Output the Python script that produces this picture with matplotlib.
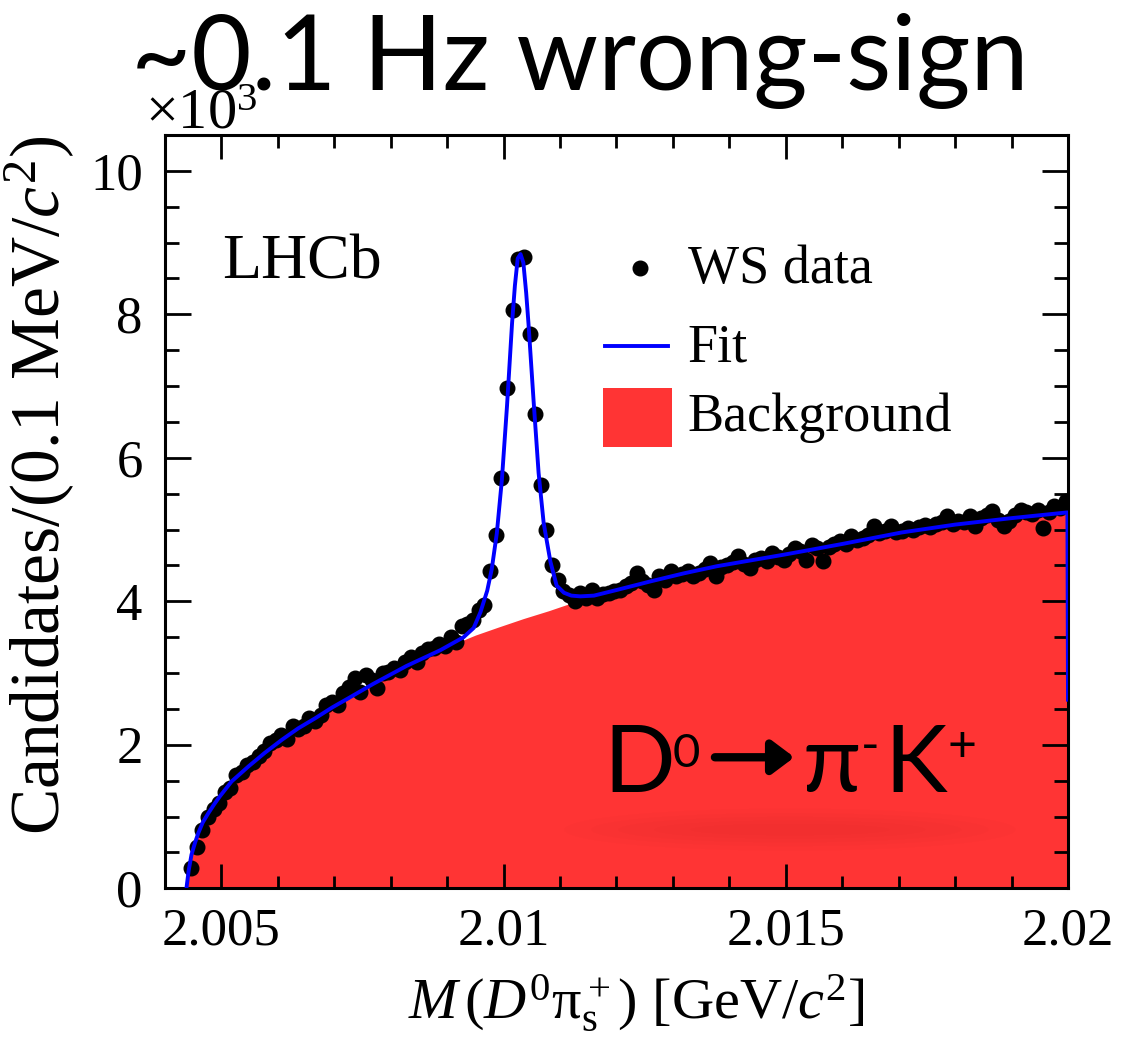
import matplotlib
matplotlib.use("Agg")
import matplotlib.pyplot as plt
from matplotlib.ticker import MultipleLocator, FuncFormatter
from matplotlib.patches import Rectangle, Ellipse
import numpy as np

plt.rcParams["font.family"] = ["Liberation Serif", "DejaVu Serif"]
plt.rcParams["mathtext.fontset"] = "custom"
plt.rcParams["mathtext.rm"] = "Liberation Serif"
plt.rcParams["mathtext.it"] = "Liberation Serif:italic"

# WS candidates per 0.1 MeV bin (x10^3), first bin centre just above threshold
m_first = 2.00446
bin_width = 0.0001
ws_counts = [
    0.29, 0.58, 0.82, 0.99, 1.10, 1.19, 1.35, 1.40, 1.58, 1.62,
    1.72, 1.76, 1.84, 1.91, 2.02, 2.07, 2.14, 2.08, 2.26, 2.22,
    2.26, 2.37, 2.33, 2.42, 2.55, 2.60, 2.56, 2.72, 2.81, 2.93,
    2.74, 2.98, 2.90, 2.79, 3.00, 3.02, 3.07, 3.05, 3.15, 3.23,
    3.16, 3.28, 3.33, 3.35, 3.40, 3.38, 3.51, 3.44, 3.65, 3.68,
    3.74, 3.88, 3.95, 4.42, 4.92, 5.72, 6.97, 8.06, 8.77, 8.80,
    7.72, 6.61, 5.62, 5.00, 4.50, 4.30, 4.15, 4.09, 4.00, 4.12,
    4.05, 4.16, 4.05, 4.10, 4.12, 4.14, 4.16, 4.21, 4.25, 4.40,
    4.28, 4.23, 4.16, 4.35, 4.30, 4.42, 4.35, 4.38, 4.42, 4.36,
    4.40, 4.45, 4.54, 4.35, 4.48, 4.51, 4.55, 4.63, 4.52, 4.47,
    4.58, 4.61, 4.56, 4.68, 4.62, 4.58, 4.66, 4.75, 4.70, 4.58,
    4.79, 4.74, 4.56, 4.76, 4.80, 4.84, 4.80, 4.91, 4.86, 4.88,
    4.92, 5.05, 4.95, 4.98, 5.05, 4.97, 4.98, 5.02, 5.00, 5.04,
    5.06, 5.03, 5.08, 5.10, 5.19, 5.08, 5.12, 5.10, 5.19, 5.05,
    5.16, 5.20, 5.26, 5.14, 5.05, 5.12, 5.20, 5.28, 5.24, 5.22,
    5.27, 5.02, 5.25, 5.33, 5.30, 5.40,
]
m_data = m_first + bin_width * np.arange(len(ws_counts))

# total fit curve (signal + background)
fit_m = [2.00438, 2.00442, 2.00447, 2.00453, 2.00459, 2.00467, 2.00477, 2.00487,
         2.00497, 2.00518, 2.00548, 2.00577, 2.00607, 2.00636, 2.00666, 2.00696,
         2.00725, 2.00769, 2.00828, 2.00888, 2.00929, 2.00947, 2.00959, 2.00971,
         2.00979, 2.00988, 2.00997, 2.01006, 2.01015, 2.01020, 2.01025, 2.01030,
         2.01035, 2.01040, 2.01044, 2.01053, 2.01062, 2.01071, 2.01083, 2.01094,
         2.01107, 2.01120, 2.01136, 2.01160, 2.01201, 2.01261, 2.01319, 2.01378,
         2.01437, 2.01496, 2.01545, 2.01600, 2.01705, 2.01800, 2.01900, 2.01999,
         2.02000]
fit_y = [0.00, 0.25, 0.47, 0.63, 0.77, 0.92, 1.05, 1.17,
         1.28, 1.49, 1.70, 1.89, 2.07, 2.23, 2.37, 2.52,
         2.65, 2.85, 3.10, 3.32, 3.50, 3.63, 3.85, 4.15,
         4.45, 4.95, 5.70, 6.72, 7.88, 8.40, 8.78, 8.84,
         8.72, 8.30, 7.88, 6.81, 5.79, 5.09, 4.55, 4.22,
         4.12, 4.08, 4.07, 4.08, 4.16, 4.28, 4.39, 4.49,
         4.57, 4.65, 4.72, 4.80, 4.96, 5.07, 5.16, 5.24,
         2.63]

# background component
bkg_m = [2.00438, 2.00442, 2.00447, 2.00453, 2.00459, 2.00467, 2.00477, 2.00487,
         2.00497, 2.00518, 2.00548, 2.00577, 2.00607, 2.00636, 2.00666, 2.00696,
         2.00725, 2.00769, 2.00828, 2.00870, 2.00910, 2.00950, 2.00990, 2.01035,
         2.01080, 2.01136, 2.01201, 2.01261, 2.01319, 2.01378, 2.01437, 2.01496,
         2.01545, 2.01600, 2.01705, 2.01800, 2.01900, 2.02000]
bkg_y = [0.00, 0.25, 0.47, 0.63, 0.77, 0.92, 1.05, 1.17,
         1.28, 1.49, 1.70, 1.89, 2.07, 2.23, 2.37, 2.52,
         2.65, 2.84, 3.08, 3.24, 3.40, 3.53, 3.64, 3.76,
         3.87, 4.02, 4.14, 4.26, 4.37, 4.47, 4.55, 4.63,
         4.70, 4.78, 4.94, 5.05, 5.14, 5.22]

red = "#ff3434"
blue = "#0000ff"

fig = plt.figure(figsize=(11.37, 10.40), dpi=100)
ax = fig.add_axes([0.1451, 0.1458, 0.7942, 0.7244])

ax.fill_between(bkg_m, 0, bkg_y, color=red, lw=0, zorder=1)
ax.plot(m_data, ws_counts, "o", color="black", ms=10.5, zorder=3)
ax.plot(fit_m, fit_y, color=blue, lw=2.8, zorder=4)

# faint shadow under the decay label
for w, h in [(0.50, 0.056), (0.44, 0.044), (0.38, 0.034), (0.30, 0.024), (0.22, 0.015)]:
    ax.add_patch(Ellipse((0.692, 0.078), w, h, transform=ax.transAxes,
                         color="#b01010", alpha=0.028, lw=0, zorder=2))

ax.set_xlim(2.0040, 2.0200)
ax.set_ylim(0, 10.5)
ax.xaxis.set_major_locator(MultipleLocator(0.005))
ax.xaxis.set_minor_locator(MultipleLocator(0.001))
ax.yaxis.set_major_locator(MultipleLocator(2))
ax.yaxis.set_minor_locator(MultipleLocator(0.5))
ax.xaxis.set_major_formatter(FuncFormatter(lambda v, p: f"{v:g}"))
ax.yaxis.set_major_formatter(FuncFormatter(lambda v, p: f"{v:g}"))

for s in ax.spines.values():
    s.set_linewidth(2.2)
ax.tick_params(which="both", direction="in", top=True, right=True, width=2.0,
               labelsize=38)
ax.tick_params(axis="x", which="major", length=17, pad=14)
ax.tick_params(axis="x", which="minor", length=9)
ax.tick_params(axis="y", which="major", length=19, pad=16)
ax.tick_params(axis="y", which="minor", length=10)

ax.set_xlabel(r"$M\,(D^0\mathrm{\pi}^+_{\mathrm{s}})$ [GeV/$c^2$]", fontsize=42)
ax.xaxis.set_label_coords(0.522, -0.112)
ax.set_ylabel(r"Candidates/(0.1 MeV/$c^2$)", fontsize=50)
ax.yaxis.set_label_coords(-0.097, 0.535)

ax.text(-0.022, 1.009, r"$\times10^{3}$", transform=ax.transAxes, fontsize=42,
        ha="left", va="baseline", zorder=5)

ax.text(0.063, 0.809, "LHCb", transform=ax.transAxes, fontsize=46,
        ha="left", va="baseline")

# legend drawn by hand
ax.plot([0.526], [0.823], "o", color="black", ms=10.5, transform=ax.transAxes,
        clip_on=False)
ax.text(0.579, 0.803, "WS data", transform=ax.transAxes, fontsize=39, va="baseline")
ax.plot([0.487, 0.557], [0.720, 0.720], color=blue, lw=2.8, transform=ax.transAxes)
ax.text(0.579, 0.700, "Fit", transform=ax.transAxes, fontsize=39, va="baseline")
ax.add_patch(Rectangle((0.485, 0.586), 0.0764, 0.078, transform=ax.transAxes,
                       color=red, lw=0))
ax.text(0.579, 0.607, "Background", transform=ax.transAxes, fontsize=39, va="baseline")

# decay label
sans = ["Lato", "DejaVu Sans"]
ax.text(0.485, 0.128, "D", transform=ax.transAxes, fontsize=68, family=sans,
        va="baseline", zorder=5)
ax.text(0.562, 0.161, "0", transform=ax.transAxes, fontsize=34, family=sans,
        va="baseline", zorder=5)
ax.annotate("", xy=(0.697, 0.174), xytext=(0.609, 0.174), xycoords="axes fraction",
            arrowprops=dict(arrowstyle="-|>,head_length=0.6,head_width=0.45",
                            mutation_scale=22, lw=6, color="black",
                            shrinkA=0, shrinkB=0), zorder=5)
ax.text(0.706, 0.128, "\u03c0", transform=ax.transAxes, fontsize=68, family=sans,
        va="baseline", zorder=5)
ax.text(0.771, 0.188, "-", transform=ax.transAxes, fontsize=36, family=sans,
        va="center", zorder=5)
ax.text(0.797, 0.128, "K", transform=ax.transAxes, fontsize=68, family=sans,
        va="baseline", zorder=5)
ax.text(0.867, 0.188, "+", transform=ax.transAxes, fontsize=36, family=sans,
        va="center", zorder=5)

fig.text(0.510, 0.913, "~0.1 Hz wrong-sign", fontsize=75, family=sans,
         ha="center", va="baseline", zorder=10)

fig.savefig("out.png", dpi=100)
